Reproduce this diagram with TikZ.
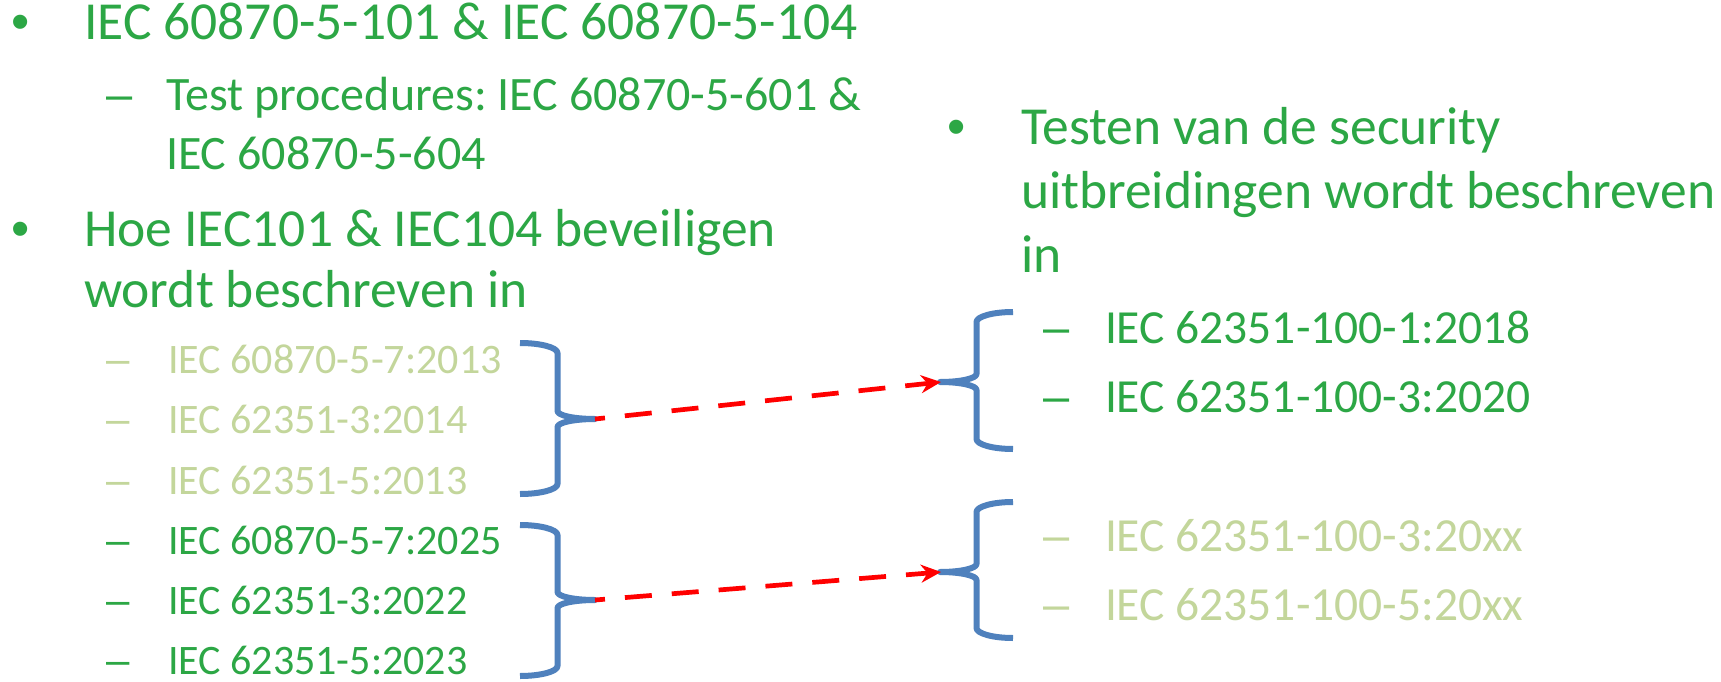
\documentclass[tikz,border=0pt]{standalone}
\usepackage{fontspec}
\setmainfont{Carlito}
\newfontfamily\bulfont{Liberation Sans}
\usetikzlibrary{arrows.meta}
\frenchspacing
\definecolor{tgreen}{RGB}{44,167,69}
\definecolor{tlight}{RGB}{195,214,155}
\definecolor{bblue}{RGB}{79,129,189}
\definecolor{ared}{RGB}{255,0,0}
\newcommand{\mybrace}[5]{% xend, xtip, ytop, ytip, ybot
  \pgfmathsetmacro\bxm{(#1+#2)/2}%
  \pgfmathsetmacro\bca{#1+0.552*(\bxm-#1)}%
  \pgfmathsetmacro\bcb{#2-0.552*(#2-\bxm)}%
  \draw[bracepath] (#1,#3) .. controls (\bca,#3) and (\bxm,#3+4.5) .. (\bxm,#3+10)
    -- (\bxm,#4-8) .. controls (\bxm,#4-3.5) and (\bcb,#4) .. (#2,#4)
    .. controls (\bcb,#4) and (\bxm,#4+3.5) .. (\bxm,#4+8)
    -- (\bxm,#5-10) .. controls (\bxm,#5-4.5) and (\bca,#5) .. (#1,#5);
}
\begin{document}
\begin{tikzpicture}[x=1pt,y=-1pt,
  txt/.style={anchor=base west,inner sep=0pt,outer sep=0pt},
  lvlA/.style={txt,font=\fontsize{53.5}{62}\selectfont,text=tgreen},
  lvlB/.style={txt,font=\fontsize{48}{56}\selectfont,text=tgreen},
  lvlR/.style={txt,font=\fontsize{47.5}{56}\selectfont,text=tgreen},
  lvlC/.style={txt,font=\fontsize{42}{50}\selectfont},
  bul/.style={anchor=base,inner sep=0pt,font=\bulfont\fontsize{52}{62}\selectfont,text=tgreen},
  dshB/.style={anchor=base,inner sep=0pt,font=\bulfont\fontsize{47}{56}\selectfont},
  dshC/.style={anchor=base,inner sep=0pt,font=\bulfont\fontsize{42}{50}\selectfont},
  bracepath/.style={draw=bblue,line width=6pt,line cap=butt,line join=round},
  conn/.style={draw=ared,line width=4.7pt,dash pattern=on 27pt off 20pt,dash phase=17pt,-{Stealth[length=20pt,width=18pt]}}
]
\useasboundingbox[fill=white] (0,0) rectangle (1721,682);

% left column
\node[bul] (b1) at (21,40) {•};
\node[lvlA] (t1) at (84,40) {IEC 60870-5-101 \& IEC 60870-5-104};
\node[dshB,text=tgreen] (d1) at (120,111) {–};
\node[lvlB] (t2a) at (166,111) {Test procedures: IEC 60870-5-601 \&};
\node[lvlB] (t2b) at (166,169) {IEC 60870-5-604};
\node[bul] (b2) at (21,246) {•};
\node[lvlA] (t3a) at (84,246) {Hoe IEC101 \& IEC104 beveiligen};
\node[lvlA] (t3b) at (84,307) {wordt beschreven in};

\node[dshC,text=tlight] (dl1) at (118,373) {–};
\node[lvlC,text=tlight] (l1) at (168,373) {IEC 60870-5-7:2013};
\node[dshC,text=tlight] (dl2) at (118,433) {–};
\node[lvlC,text=tlight] (l2) at (168,433) {IEC 62351-3:2014};
\node[dshC,text=tlight] (dl3) at (118,494) {–};
\node[lvlC,text=tlight] (l3) at (168,494) {IEC 62351-5:2013};
\node[dshC,text=tgreen] (dl4) at (118,554) {–};
\node[lvlC,text=tgreen] (l4) at (168,554) {IEC 60870-5-7:2025};
\node[dshC,text=tgreen] (dl5) at (118,614) {–};
\node[lvlC,text=tgreen] (l5) at (168,614) {IEC 62351-3:2022};
\node[dshC,text=tgreen] (dl6) at (118,674) {–};
\node[lvlC,text=tgreen] (l6) at (168,674) {IEC 62351-5:2023};

% right column
\node[bul] (b3) at (957,145) {•};
\node[lvlA] (r1a) at (1021,145) {Testen van de security};
\node[lvlA] (r1b) at (1021,208) {uitbreidingen wordt beschreven};
\node[lvlA] (r1c) at (1021,272) {in};

\node[dshB,text=tgreen] (dr1) at (1057,343) {–};
\node[lvlR] (r2) at (1105,343) {IEC 62351-100-1:2018};
\node[dshB,text=tgreen] (dr2) at (1057,412) {–};
\node[lvlR] (r3) at (1105,412) {IEC 62351-100-3:2020};
\node[dshB,text=tlight] (dr3) at (1057,551) {–};
\node[lvlR,text=tlight] (r4) at (1105,551) {IEC 62351-100-3:20xx};
\node[dshB,text=tlight] (dr4) at (1057,620) {–};
\node[lvlR,text=tlight] (r5) at (1105,620) {IEC 62351-100-5:20xx};

% braces
\mybrace{520}{595}{343}{419}{494}
\mybrace{520}{595}{525}{600}{676}
\mybrace{1013}{940}{312}{382}{449}
\mybrace{1013}{940}{502}{572}{638}

\coordinate (lt1) at (595,419);
\coordinate (lt2) at (595,600);
\coordinate (rt1) at (941,382);
\coordinate (rt2) at (941,572);

\draw[conn] (lt1) -- (rt1);
\draw[conn] (lt2) -- (rt2);
\end{tikzpicture}
\end{document}
